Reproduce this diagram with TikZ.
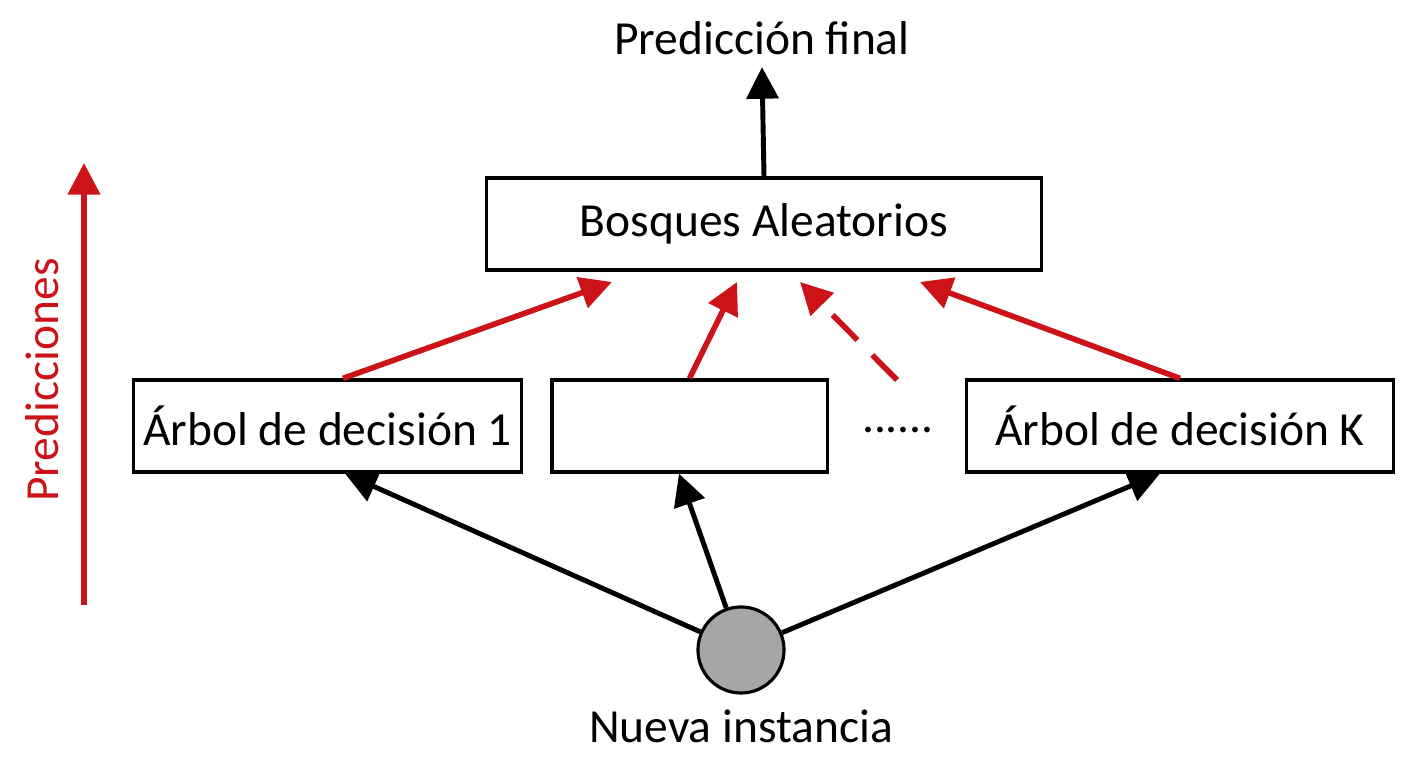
\documentclass[tikz,border=0pt]{standalone}
\usepackage{fontspec}
\setmainfont{Carlito}
\usetikzlibrary{arrows.meta,positioning}
\definecolor{predred}{RGB}{204,20,24}
\begin{document}
\begin{tikzpicture}[x=0.01cm,y=-0.01cm,font=\fontsize{13.5}{16}\selectfont,
  caja/.style={draw,line width=0.9pt,minimum height=0.92cm,inner sep=0pt},
  flecha/.style={line width=1.4pt,-{Triangle[length=9pt,width=9pt]}},
  roja/.style={flecha,predred,line width=1.6pt}]
\useasboundingbox (0,0) rectangle (1408,768);
\node[caja,minimum width=5.55cm] (bosque) at (764,224) {Bosques Aleatorios};
\node[caja,minimum width=3.87cm] (arbol1) at (327.5,426) {Árbol de decisión 1};
\node[caja,minimum width=2.75cm] (arbol2) at (689.5,426) {};
\node (puntos) at (898,430) {......};
\node[caja,minimum width=4.26cm] (arbolK) at (1180,426) {Árbol de decisión K};
\node[circle,draw,line width=0.9pt,fill=black!35,minimum size=0.86cm] (inst) at (741,650) {};
\node (nueva) at (741,726) {Nueva instancia};
\node (final) at (762,38) {Predicción final};
\node[rotate=90,text=predred] (pred) at (42,380) {Predicciones};
\coordinate (baja) at (84,605);
\coordinate (sube) at (84,163);
\coordinate (r1) at (612,282);
\coordinate (r2) at (737,282);
\coordinate (r3) at (800,282);
\coordinate (r4) at (920,282);
\coordinate (d3) at (897,380);
% flechas
\draw[flecha] (bosque.north) -- (final.south);
\draw[roja] (baja) -- (sube);
\draw[roja] (arbol1.north -| 343,0) -- (r1);
\draw[roja] (arbol2.north) -- (r2);
\draw[roja,dash pattern=on 10pt off 6pt] (d3) -- (r3);
\draw[roja] (arbolK.north) -- (r4);
\draw[flecha] (inst) -- (arbol1.south -| 345,0);
\draw[flecha] (inst) -- (arbol2.south -| 679,0);
\draw[flecha] (inst) -- (arbolK.south -| 1160,0);
\end{tikzpicture}
\end{document}
